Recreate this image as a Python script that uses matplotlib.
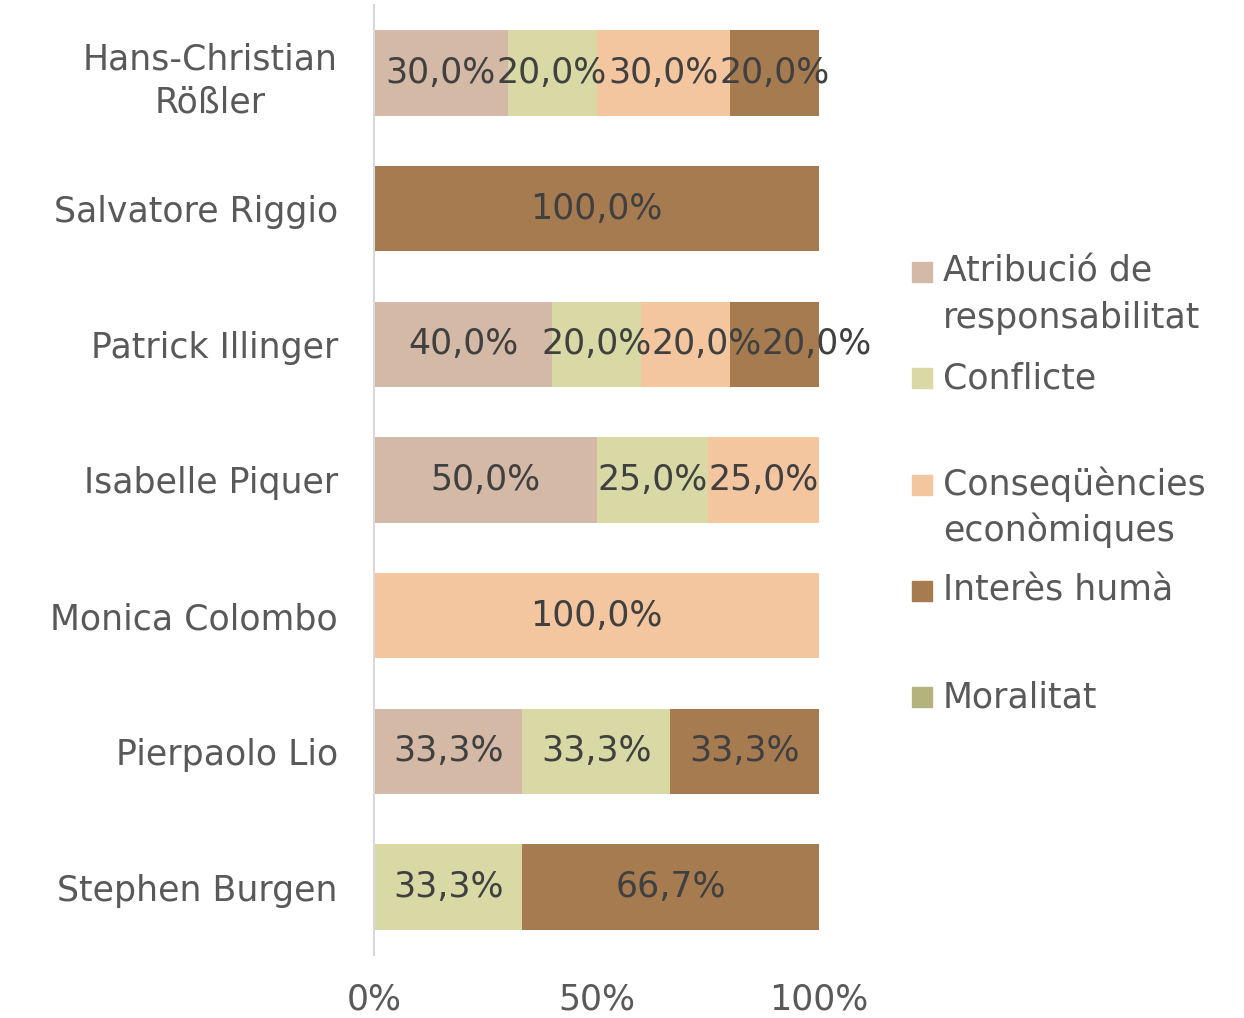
import numpy as np
import matplotlib
matplotlib.use("Agg")
import matplotlib.pyplot as plt
from matplotlib.patches import Rectangle

# rows from top to bottom
people = [
    "Hans-Christian\nRößler",
    "Salvatore Riggio",
    "Patrick Illinger",
    "Isabelle Piquer",
    "Monica Colombo",
    "Pierpaolo Lio",
    "Stephen Burgen",
]
frames = [
    "Atribució de\nresponsabilitat",
    "Conflicte",
    "Conseqüències\neconòmiques",
    "Interès humà",
    "Moralitat",
]
colors = ["#D4BAA6", "#D9D9A6", "#F4C6A0", "#A67B50", "#B3B37D"]

atribucio = [30.0, 0.0, 40.0, 50.0, 0.0, 33.3, 0.0]
conflicte = [20.0, 0.0, 20.0, 25.0, 0.0, 33.3, 33.3]
consequencies = [30.0, 0.0, 20.0, 25.0, 100.0, 0.0, 0.0]
interes = [20.0, 100.0, 20.0, 0.0, 0.0, 33.3, 66.7]
moralitat = [0.0, 0.0, 0.0, 0.0, 0.0, 0.0, 0.0]

series = [atribucio, conflicte, consequencies, interes, moralitat]
xticks = [0, 50, 100]
xtick_labels = ["0%", "50%", "100%"]

FS = 25
TICK_C = "#595959"
LABEL_C = "#404040"

fig = plt.figure(figsize=(12.44, 10.18), dpi=100)
ax = fig.add_axes([374 / 1244, 63 / 1018, 445 / 1244, 950 / 1018])

y = np.arange(len(people))
left = np.zeros(len(people))
for vals, col in zip(series, colors):
    vals = np.array(vals)
    ax.barh(y, vals, left=left, height=0.63, color=col, edgecolor="none")
    left = left + vals

ax.set_xlim(0, 100)
ax.set_ylim(len(people) - 0.5, -0.5)
ax.set_yticks(y)
ax.set_yticklabels(people, fontsize=FS, color=TICK_C, multialignment="center",
                   linespacing=1.35)
ax.set_xticks(xticks)
ax.set_xticklabels(xtick_labels, fontsize=FS, color=TICK_C)
ax.tick_params(axis="both", length=0)
ax.tick_params(axis="y", pad=26)
ax.tick_params(axis="x", pad=20)
for s in ["top", "right", "bottom"]:
    ax.spines[s].set_visible(False)
ax.spines["left"].set_color("#D9D9D9")
ax.spines["left"].set_linewidth(1.5)

# data labels, pushed right when they would overlap the previous one
fig.canvas.draw()
renderer = fig.canvas.get_renderer()
inv = ax.transData.inverted()
for i in range(len(people)):
    start = 0.0
    prev_end = -1e9
    for vals in series:
        v = vals[i]
        if v <= 0:
            continue
        cx = start + v / 2
        t = ax.text(cx, i, f"{v:.1f}%".replace(".", ","), ha="center", va="center",
                    fontsize=FS, color=LABEL_C)
        bb = t.get_window_extent(renderer)
        if bb.x0 < prev_end - 2:
            shift = prev_end - bb.x0
            px = ax.transData.transform((cx, i))[0] + shift
            t.set_x(inv.transform((px, 0))[0])
            bb = t.get_window_extent(renderer)
        prev_end = bb.x1
        start += v

# legend on the right
for k, (name, col) in enumerate(zip(frames, colors)):
    cy = 272 + k * 106.25
    fig.add_artist(Rectangle((912 / 1244, (1018 - cy - 10) / 1018), 20 / 1244, 20 / 1018,
                             transform=fig.transFigure, color=col))
    for j, line in enumerate(name.split("\n")):
        base = cy + 10 + j * 46
        fig.text(943 / 1244, (1018 - base) / 1018, line, fontsize=FS, color=TICK_C,
                 va="baseline", ha="left")

fig.savefig("out.png", dpi=100)
